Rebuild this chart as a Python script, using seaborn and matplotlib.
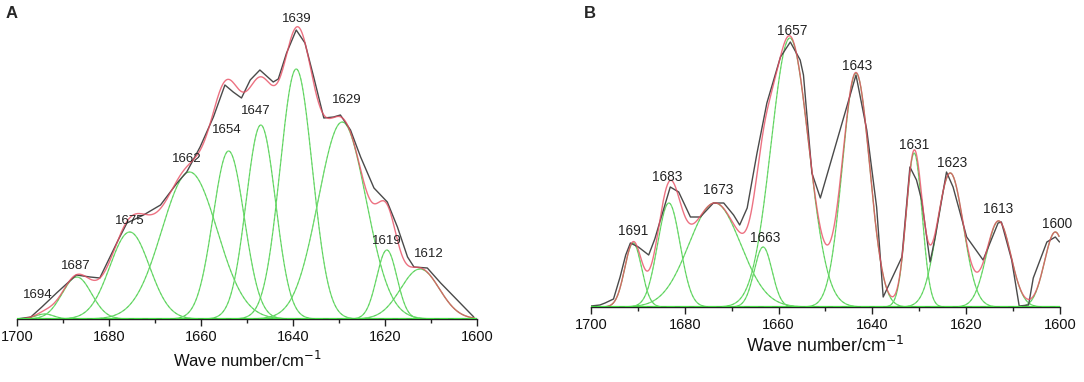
import numpy as np
import pandas as pd
import matplotlib
matplotlib.use("Agg")
import matplotlib.pyplot as plt
import seaborn as sns

# ---------------- data ----------------
# Panel A: fitted Gaussian bands (centre, height, sigma)
a_labels = ["1694", "1687", "1675", "1662", "1654", "1647", "1639", "1629", "1619", "1612"]
a_centers = [1694.0, 1687.0, 1675.5, 1662.5, 1654.0, 1647.0, 1639.3, 1629.3, 1619.6, 1612.4]
a_heights = [5, 42, 87, 147, 168, 194, 250, 197, 69, 50]
a_sigmas = [2.0, 3.2, 4.3, 6.0, 3.4, 3.2, 3.5, 5.2, 2.2, 4.2]

# Panel A: measured spectrum
a_obs_x = [1700, 1697, 1694.6, 1691.4, 1687.1, 1684.1, 1682, 1678, 1676.1, 1672.5,
           1668.8, 1665.2, 1663.1, 1660.2, 1657.3, 1654.8, 1653, 1651.2, 1649.3,
           1647.2, 1644.3, 1643.2, 1641.4, 1639.3, 1637.4, 1635.5, 1633.3, 1631.2,
           1629.7, 1627.5, 1625.3, 1622.4, 1619.5, 1617.3, 1615.1, 1613.7, 1610.8,
           1607.9, 1604.3, 1600.7]
a_obs_y = [0, 2, 12, 26, 44, 42, 41, 79, 96, 104,
           114, 136, 147, 172, 202, 234, 227, 221, 239,
           249, 237, 240, 266, 289, 276, 242, 201, 202,
           204, 189, 162, 131, 117, 92, 62, 52, 51,
           36, 19, 2]

# Panel B: fitted Gaussian bands
b_labels = ["1691", "1683", "1673", "1663", "1657", "1643", "1631", "1623", "1613", "1600"]
b_centers = [1691.0, 1683.4, 1673.6, 1663.3, 1657.6, 1643.5, 1631.1, 1623.4, 1613.1, 1601.0]
b_heights = [64, 104, 104, 60, 269, 234, 154, 134, 86, 75]
b_sigmas = [1.8, 2.4, 5.5, 1.9, 4.0, 2.9, 1.7, 2.8, 2.6, 2.3]

# Panel B: measured spectrum
b_obs_x = [1700, 1698.1, 1697.0, 1695.2, 1693.8, 1692.6, 1691.6, 1689.9, 1687.7, 1686.4,
           1685.2, 1683.1, 1681.3, 1678.8,
           1676.7, 1673.9, 1671.7, 1669.6, 1668.3, 1666.7, 1664.6, 1662.5, 1659.6,
           1657.5, 1655.4, 1654.7, 1652.9, 1651.1, 1643.5, 1641.2, 1639.1, 1637.7,
           1633.7, 1632.0, 1630.6, 1629.5, 1627.7, 1626.6, 1624.2, 1622.8, 1619.9,
           1616.4, 1613.2, 1612.5, 1610.3, 1608.7, 1606.7, 1605.7, 1602.8, 1601.0, 1600.1]
b_obs_y = [1, 2, 4, 8, 30, 52, 64, 60, 52, 68,
           87, 120, 115, 90,
           90, 104, 104, 92, 82, 99, 154, 204, 250,
           265, 247, 232, 134, 109, 232, 177, 100, 10,
           50, 140, 127, 107, 45, 70, 135, 120, 70,
           47, 84, 85, 47, 1, 2, 29, 65, 70, 65]

# ---------------- layout constants (annotation placement) ----------------
A_LABEL_POS = [(1695.4, 24), (1687.2, 53), (1675.4, 98), (1663.0, 160), (1654.3, 189),
               (1648.0, 208), (1639.1, 300), (1628.3, 219), (1619.6, 78), (1610.4, 65)]
B_LABEL_POS = [(1691.0, 76), (1683.8, 130), (1672.9, 117), (1662.9, 69), (1657.1, 276),
               (1643.3, 241), (1631.1, 162), (1623.0, 144), (1613.2, 98), (1600.6, 83)]

sns.set_theme(style="white")
plt.rcParams["font.family"] = ["Liberation Sans", "DejaVu Sans"]

GREEN = "#72DD72"
GREEN_D = "#3DBB3D"
RED = "#E84F63"
BLACK = "#4A4A4A"

fig = plt.figure(figsize=(10.84, 3.82), dpi=100)
W, H = 1084, 382


def gauss(x, c, h, s):
    return h * np.exp(-0.5 * ((x - c) / s) ** 2)


def draw_panel(ax, centers, heights, sigmas, obs_x, obs_y, labels, label_pos,
               x_lo, x_hi, label_fs):
    grid = np.linspace(x_hi, x_lo, 800)
    total = np.zeros_like(grid)
    for c, h, s in zip(centers, heights, sigmas):
        comp = gauss(grid, c, h, s)
        total += comp
        sns.lineplot(x=grid, y=comp, ax=ax, color=GREEN, lw=0.9, sort=False)
        sns.lineplot(x=grid, y=comp, ax=ax, color=GREEN_D, lw=0.6, sort=False,
                     alpha=0.45, linestyle=(0, (3, 3)))
    obs = pd.DataFrame({"x": obs_x, "y": obs_y})
    sns.lineplot(data=obs, x="x", y="y", ax=ax, color=BLACK, lw=1.0, sort=False)
    sns.lineplot(x=grid, y=total, ax=ax, color=RED, lw=1.0, alpha=0.8, sort=False)
    # baseline
    ax.axhline(0, color="#44DD44", lw=1.6, zorder=5)
    ax.axhline(0, color="#2E8B2E", lw=1.0, zorder=6, linestyle=(0, (4, 6)))
    for txt, (lx, ly) in zip(labels, label_pos):
        ax.text(lx, ly, txt, ha="center", va="center", fontsize=label_fs,
                color="#222222", clip_on=False)
    ax.set_xlim(1700, 1600)
    ax.set_xticks([1700, 1680, 1660, 1640, 1620, 1600])
    ax.set_xticks([1690, 1670, 1650, 1630, 1610], minor=True)
    ax.set_yticks([])
    ax.set_ylabel("")
    for sp in ["left", "right", "top"]:
        ax.spines[sp].set_visible(False)
    ax.spines["bottom"].set_color("#222222")
    ax.spines["bottom"].set_linewidth(1.0)
    ax.tick_params(axis="x", which="major", direction="out", length=5, width=1.0,
                   color="#222222", bottom=True, pad=3, labelsize=10.5,
                   labelcolor="#111111")
    ax.tick_params(axis="x", which="minor", direction="out", length=3, width=1.0,
                   color="#222222", bottom=True)
    ax.patch.set_alpha(0)


# Panel A
axA = fig.add_axes([17 / W, 1 - 319 / H, 460 / W, 300 / H])
axA.set_ylim(0, 300)
draw_panel(axA, a_centers, a_heights, a_sigmas, a_obs_x, a_obs_y, a_labels,
           A_LABEL_POS, 1600.5, 1699.5, 9.5)
axA.set_xlabel("Wave number/cm$^{-1}$", fontsize=12, labelpad=4, color="#111111")

# Panel B
axB = fig.add_axes([591 / W, 1 - 307 / H, 469 / W, 290 / H])
axB.set_ylim(0, 290)
draw_panel(axB, b_centers, b_heights, b_sigmas, b_obs_x, b_obs_y, b_labels,
           B_LABEL_POS, 1600.2, 1699.8, 9.8)
axB.set_xlabel("Wave number/cm$^{-1}$", fontsize=12.8, labelpad=3, color="#111111")

fig.text(12 / W, 1 - 14 / H, "A", fontsize=12, fontweight="bold", ha="center", va="center")
fig.text(590 / W, 1 - 14 / H, "B", fontsize=12, fontweight="bold", ha="center", va="center")

fig.savefig("out.png", dpi=100)
